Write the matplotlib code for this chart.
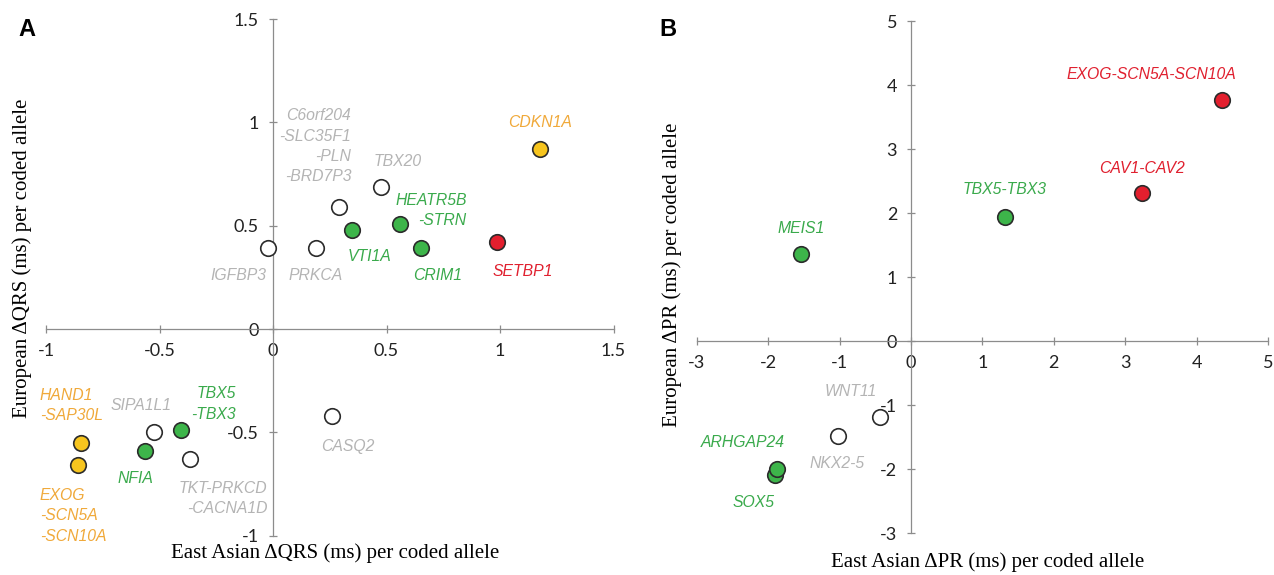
import numpy as np
import matplotlib
matplotlib.use("Agg")
import matplotlib.pyplot as plt
from matplotlib.ticker import FuncFormatter

plt.rcParams['axes.unicode_minus'] = False

# panel A : QRS
genes_a = ["IGFBP3", "PRKCA", "C6orf204\n-SLC35F1\n-PLN\n-BRD7P3", "TBX20",
           "VTI1A", "HEATR5B\n-STRN", "CRIM1", "SETBP1", "CDKN1A", "CASQ2",
           "SIPA1L1", "TBX5\n-TBX3", "NFIA", "TKT-PRKCD\n-CACNA1D",
           "HAND1\n-SAP30L", "EXOG\n-SCN5A\n-SCN10A"]
east_asian_qrs = [-0.02, 0.19, 0.29, 0.475, 0.35, 0.56, 0.65, 0.985, 1.175, 0.26,
                  -0.525, -0.405, -0.565, -0.365, -0.845, -0.86]
european_qrs = [0.39, 0.39, 0.59, 0.69, 0.48, 0.51, 0.39, 0.42, 0.87, -0.42,
                -0.50, -0.49, -0.59, -0.63, -0.55, -0.66]
group_a = ["none", "none", "none", "none", "green", "green", "green", "red", "yellow", "none",
           "none", "green", "green", "none", "yellow", "yellow"]
ticks_a = [-1, -0.5, 0, 0.5, 1, 1.5]

# panel B : PR
genes_b = ["EXOG-SCN5A-SCN10A", "CAV1-CAV2", "TBX5-TBX3", "MEIS1", "WNT11",
           "NKX2-5", "SOX5", "ARHGAP24"]
east_asian_pr = [4.36, 3.24, 1.31, -1.54, -0.43, -1.02, -1.91, -1.88]
european_pr = [3.77, 2.31, 1.94, 1.36, -1.19, -1.48, -2.09, -2.0]
group_b = ["red", "red", "green", "green", "none", "none", "green", "green"]
ticks_b = [-3, -2, -1, 0, 1, 2, 3, 4, 5]

# label placement (x, y, ha) in data units
labels_a = [(-0.154, 0.257, 'center'), (0.186, 0.257, 'center'), (0.345, 0.885, 'right'),
            (0.548, 0.81, 'center'), (0.425, 0.35, 'center'), (0.853, 0.575, 'right'),
            (0.727, 0.26, 'center'), (1.098, 0.28, 'center'), (1.177, 1.0, 'center'),
            (0.33, -0.567, 'center'), (-0.582, -0.369, 'center'), (-0.163, -0.363, 'right'),
            (-0.606, -0.723, 'center'), (-0.024, -0.822, 'right'), (-1.027, -0.371, 'left'),
            (-1.027, -0.905, 'left')]
labels_b = [(3.37, 4.16, 'center'), (3.24, 2.69, 'center'), (1.31, 2.37, 'center'),
            (-1.54, 1.76, 'center'), (-0.845, -0.795, 'center'), (-1.03, -1.92, 'center'),
            (-2.21, -2.52, 'center'), (-2.35, -1.58, 'center')]

fill = {"green": "#3db54a", "red": "#e31f2e", "yellow": "#f7c51e", "none": "white"}
text_col = {"green": "#3aaa4c", "red": "#e0202f", "yellow": "#f0a93a", "none": "#b4b4b4"}
axis_col = "#8c8c8c"

W, H = 1274, 575
fig = plt.figure(figsize=(W / 100, H / 100), dpi=100)


def make_axes(box, x0, sx, y0, sy):
    # box = left, right, top, bottom in pixels; x0/y0 pixel of data zero
    L, R, T, B = box
    ax = fig.add_axes([L / W, 1 - B / H, (R - L) / W, (B - T) / H])
    ax.set_xlim((L - x0) / sx, (R - x0) / sx)
    ax.set_ylim((y0 - B) / sy, (y0 - T) / sy)
    return ax


def draw_panel(ax, xs, ys, groups, names, labels, ticks_x, ticks_y):
    for side in ['top', 'right']:
        ax.spines[side].set_visible(False)
    ax.spines['left'].set_position(('data', 0))
    ax.spines['bottom'].set_position(('data', 0))
    ax.spines['left'].set_bounds(ticks_y[0], ticks_y[-1])
    ax.spines['bottom'].set_bounds(ticks_x[0], ticks_x[-1])
    for side in ['left', 'bottom']:
        ax.spines[side].set_color(axis_col)
        ax.spines[side].set_linewidth(0.9)
    ax.patch.set_alpha(0)
    ax.set_xticks(ticks_x)
    ax.set_yticks(ticks_y)
    fmt = FuncFormatter(lambda v, p: "%g" % v)
    ax.xaxis.set_major_formatter(fmt)
    ax.yaxis.set_major_formatter(fmt)
    ax.tick_params(direction='inout', length=6, width=0.9, color=axis_col,
                   labelsize=13, labelcolor='#222222', pad=7)
    for lab in ax.get_xticklabels() + ax.get_yticklabels():
        lab.set_family('Lato')

    for i in range(len(xs)):
        ax.scatter(xs[i], ys[i], s=125, c=fill[groups[i]], edgecolors='#2b2b2b',
                   linewidths=1.2, zorder=3)
        lx, ly, ha = labels[i]
        ax.text(lx, ly, names[i], ha=ha, va='center', fontsize=11.3, style='italic',
                family='Liberation Sans', color=text_col[groups[i]],
                linespacing=1.45, zorder=4)


ax_a = make_axes((20, 640, 5, 570), 273, 227, 329, 206.5)
draw_panel(ax_a, east_asian_qrs, european_qrs, group_a, genes_a, labels_a, ticks_a, ticks_a)

ax_b = make_axes((660, 1274, 5, 570), 911, 71.4, 341, 64)
draw_panel(ax_b, east_asian_pr, european_pr, group_b, genes_b, labels_b, ticks_b, ticks_b)

serif = 'Liberation Serif'
fig.text(335 / W, 1 - 553 / H, "East Asian \u0394QRS (ms) per coded allele",
         ha='center', va='center', fontsize=15, family=serif)
fig.text(22 / W, 1 - 258 / H, "European \u0394QRS (ms) per coded allele",
         ha='center', va='center', fontsize=15, family=serif, rotation=90)
fig.text(988 / W, 1 - 562 / H, "East Asian \u0394PR (ms) per coded allele",
         ha='center', va='center', fontsize=15, family=serif)
fig.text(672 / W, 1 - 275 / H, "European \u0394PR (ms) per coded allele",
         ha='center', va='center', fontsize=15, family=serif, rotation=90)

fig.text(27 / W, 1 - 30 / H, "A", ha='center', va='center', fontsize=17,
         fontweight='bold', family='Liberation Sans')
fig.text(668 / W, 1 - 30 / H, "B", ha='center', va='center', fontsize=17,
         fontweight='bold', family='Liberation Sans')

fig.savefig("out.png", dpi=100)
